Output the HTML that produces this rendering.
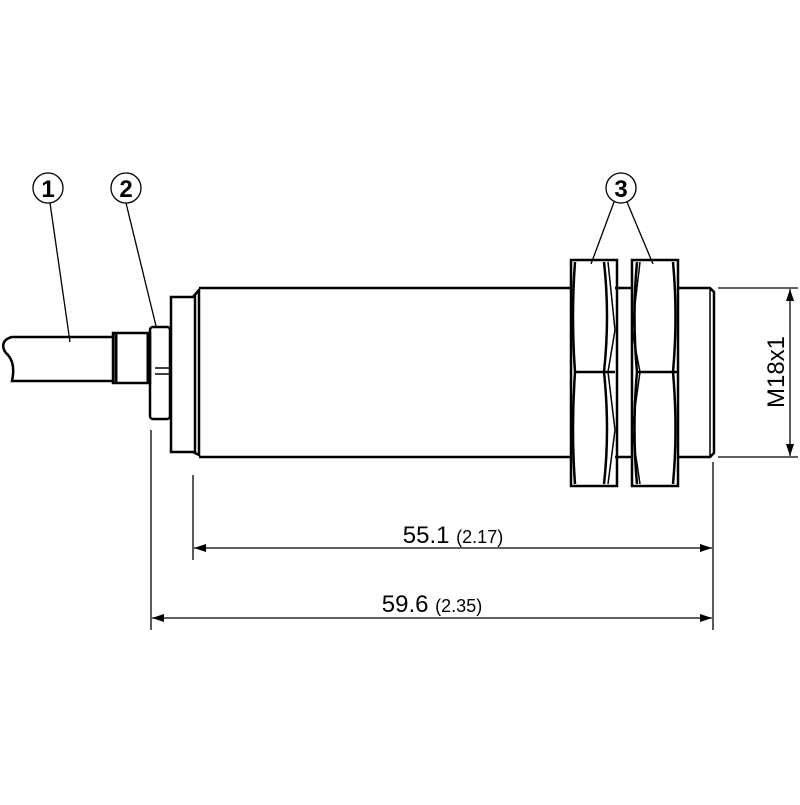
<!DOCTYPE html>
<html><head><style>body{margin:0;background:#fff}</style></head><body>
<svg width="800" height="800" xmlns="http://www.w3.org/2000/svg" font-family="Liberation Sans, sans-serif">
<defs><marker id="a" markerWidth="12" markerHeight="8" refX="12" refY="4" orient="auto-start-reverse" markerUnits="userSpaceOnUse"><path d="M0,0 L12,4 L0,8 Z" fill="#000"/></marker></defs>
<g fill="none" stroke="#000" stroke-width="2.5">
<path d="M113,337 H12 C0,340 2,350 8,355 C14,362 14,372 12,381 H113"/>
<rect x="113" y="333" width="37" height="50"/>
<line x1="116" y1="333" x2="116" y2="383" stroke-width="3"/>
<line x1="148" y1="333" x2="148" y2="383" stroke-width="3"/>
<rect x="150" y="327" width="20" height="92" rx="3"/>
<line x1="155" y1="368" x2="170" y2="368" stroke-width="1.5"/>
<line x1="155" y1="374" x2="170" y2="374" stroke-width="1.5"/>
<path d="M171,297 H193 L199,290 V455 L193,452 H171 Z"/>
<line x1="195" y1="294" x2="195" y2="452"/>
<path d="M199,288 H571 M199,457 H571"/>
<path d="M615,288 H632 M615,457 H632"/>
<path d="M677,288 H710 L714,292 V453 L710,457 H677"/>
<line x1="710" y1="288" x2="710" y2="457" stroke-width="1.5"/>
<rect x="571" y="260" width="46" height="226"/>
<rect x="632" y="260" width="46" height="226"/>
<path d="M575,262 Q571,316 575,372 Q571,430 575,484 M604,262 Q610,316 604,372 Q610,430 604,484"/>
<path d="M637,262 Q632,316 637,372 Q632,430 637,484 M673,262 Q678,316 673,372 Q678,430 673,484"/>
<line x1="575" y1="372" x2="615" y2="372"/><line x1="637" y1="372" x2="677" y2="372"/>
<path d="M608,262 L615,330 L608,372 L615,430 L608,484" stroke-width="1.5"/>
<path d="M640,262 L632,330 L640,372 L632,430 L640,484" stroke-width="1.5"/>
</g>
<g stroke="#000" stroke-width="1.3" fill="none">
<circle cx="48" cy="188" r="15"/><circle cx="126" cy="188" r="15"/><circle cx="621" cy="188" r="15"/>
<line x1="50" y1="203" x2="70" y2="342"/>
<line x1="126" y1="203" x2="156" y2="326"/>
<line x1="614" y1="202" x2="591" y2="264"/>
<line x1="627" y1="202" x2="653" y2="264"/>
<line x1="193" y1="475" x2="193" y2="560"/>
<line x1="151" y1="430" x2="151" y2="630"/>
<line x1="713" y1="462" x2="713" y2="630"/>
<line x1="718" y1="288" x2="798" y2="288"/><line x1="718" y1="457" x2="798" y2="457"/>
<line x1="194" y1="548" x2="712" y2="548" marker-start="url(#a)" marker-end="url(#a)"/>
<line x1="152" y1="618" x2="712" y2="618" marker-start="url(#a)" marker-end="url(#a)"/>
<line x1="790" y1="289" x2="790" y2="456" marker-start="url(#a)" marker-end="url(#a)"/>
</g>
<g font-size="24" text-anchor="middle">
<text x="48" y="197" font-weight="bold">1</text><text x="126" y="197" font-weight="bold">2</text><text x="621" y="197" font-weight="bold">3</text>
<text x="453" y="543">55.1 <tspan font-size="18">(2.17)</tspan></text>
<text x="432" y="612">59.6 <tspan font-size="18">(2.35)</tspan></text>
<text transform="translate(784,372) rotate(-90)">M18x1</text>
</g>
</svg>
</body></html>
